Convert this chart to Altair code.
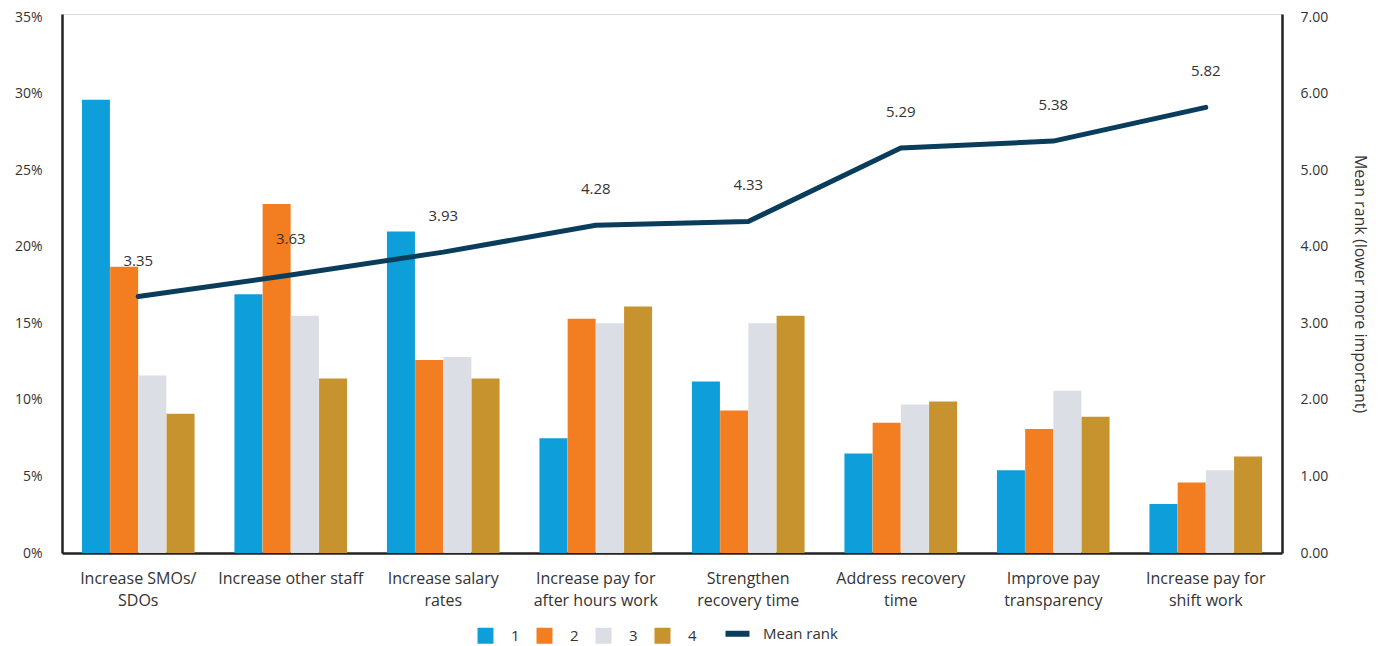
import altair as alt
import pandas as pd

categories = [
    "Increase SMOs/|SDOs",
    "Increase other staff",
    "Increase salary|rates",
    "Increase pay for|after hours work",
    "Strengthen|recovery time",
    "Address recovery|time",
    "Improve pay|transparency",
    "Increase pay for|shift work",
]
series_names = ["1", "2", "3", "4"]
pct_1 = [29.6, 16.9, 21.0, 7.5, 11.2, 6.5, 5.4, 3.2]
pct_2 = [18.7, 22.8, 12.6, 15.3, 9.3, 8.5, 8.1, 4.6]
pct_3 = [11.6, 15.5, 12.8, 15.0, 15.0, 9.7, 10.6, 5.4]
pct_4 = [9.1, 11.4, 11.4, 16.1, 15.5, 9.9, 8.9, 6.3]
mean_rank = [3.35, 3.63, 3.93, 4.28, 4.33, 5.29, 5.38, 5.82]

legend_domain = series_names + ["Mean rank"]
colors = ["#0E9FDA", "#F37E22", "#DBDEE5", "#C7932E", "#0A3D5C"]

rows = []
for s, vals in zip(series_names, [pct_1, pct_2, pct_3, pct_4]):
    for c, v in zip(categories, vals):
        rows.append({"category": c, "series": s, "pct": v})
bars_df = pd.DataFrame(rows)
line_df = pd.DataFrame({"category": categories, "rank": mean_rank, "series": "Mean rank"})

FONT = "Open Sans"
TXT = "#333333"
IS_LINE = "datum.value === 'Mean rank'"

x_enc = alt.X(
    "category:N",
    sort=categories,
    scale=alt.Scale(paddingInner=0.26, paddingOuter=0.13),
    axis=alt.Axis(
        title=None,
        labelExpr="split(datum.label, '|')",
        labelAngle=0,
        labelFontSize=16,
        labelLineHeight=22,
        labelPadding=17,
        labelColor=TXT,
        labelFont=FONT,
        ticks=False,
        domainColor="#222222",
        domainWidth=2.5,
        labelBaseline="top",
    ),
)

color_enc = alt.Color(
    "series:N",
    scale=alt.Scale(domain=legend_domain, range=colors),
    legend=alt.Legend(
        title=None,
        orient="none",
        direction="horizontal",
        legendX=416,
        legendY=612,
        symbolType=alt.ExprRef(expr=f"{IS_LINE} ? 'stroke' : 'square'"),
        symbolSize=alt.ExprRef(expr=f"{IS_LINE} ? 576 : 256"),
        symbolStrokeWidth=alt.ExprRef(expr=f"{IS_LINE} ? 6 : 0"),
        symbolStrokeColor="#0A3D5C",
        symbolOpacity=1,
        labelFontSize=15,
        labelColor=TXT,
        labelFont=FONT,
        labelOffset=18,
        columnPadding=16,
    ),
)

bars = alt.Chart(bars_df).mark_bar(size=28).encode(
    x=x_enc,
    xOffset=alt.XOffset("series:N", sort=series_names, scale=alt.Scale(paddingInner=0, paddingOuter=0)),
    y=alt.Y(
        "pct:Q",
        scale=alt.Scale(domain=[0, 35.2], nice=False, zero=True),
        axis=alt.Axis(
            title=None,
            values=[0, 5, 10, 15, 20, 25, 30, 35],
            labelExpr="datum.value + '%'",
            grid=False,
            ticks=False,
            labelPadding=20,
            labelFontSize=14,
            labelColor=TXT,
            labelFont=FONT,
            domainColor="#222222",
            domainWidth=2.5,
        ),
    ),
    color=color_enc,
)

rank_scale = alt.Scale(domain=[0, 7.04], nice=False, zero=True)
rank_axis = alt.Axis(
    orient="right",
    title="Mean rank (lower more important)",
    values=[0, 1, 2, 3, 4, 5, 6, 7],
    format=".2f",
    grid=False,
    ticks=False,
    labelPadding=18,
    labelFontSize=14,
    labelColor=TXT,
    labelFont=FONT,
    titleFont=FONT,
    titleFontSize=16,
    titleFontWeight="normal",
    titleColor=TXT,
    titlePadding=24,
    domainColor="#222222",
    domainWidth=2.5,
)

line = alt.Chart(line_df).mark_line(strokeWidth=5, strokeCap="round", strokeJoin="round").encode(
    x=alt.X("category:N", sort=categories),
    y=alt.Y("rank:Q", scale=rank_scale, axis=rank_axis),
    color=alt.Color("series:N", scale=alt.Scale(domain=legend_domain, range=colors)),
)

labels = alt.Chart(line_df).mark_text(
    dy=-28, fontSize=15, font=FONT, color=TXT, baseline="bottom"
).encode(
    x=alt.X("category:N", sort=categories),
    y=alt.Y("rank:Q", scale=rank_scale, axis=rank_axis),
    text=alt.Text("rank:Q", format=".2f"),
)

chart = (
    alt.layer(bars, alt.layer(line, labels))
    .resolve_scale(y="independent")
    .properties(
        width=1220,
        height=539,
        padding={"left": 54, "top": 6, "right": 94, "bottom": 92},
        autosize=alt.AutoSizeParams(type="none"),
    )
    .configure_view(stroke=None)
    .configure(font=FONT)
)

chart.save("out.html", embed_options={"renderer": "svg", "actions": False})
